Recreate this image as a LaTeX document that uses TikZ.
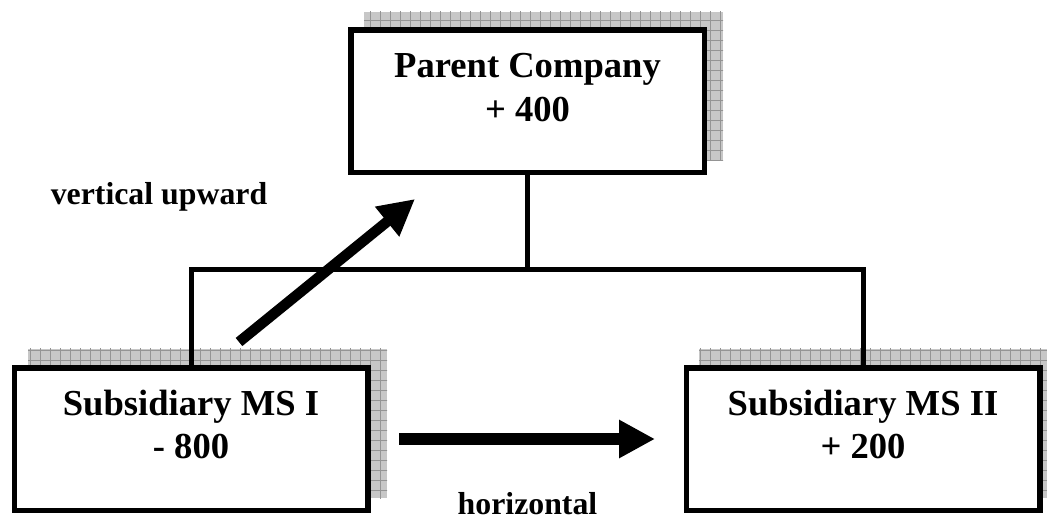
\documentclass[tikz,border=0pt]{standalone}
\usepackage{fontspec}
\setmainfont{Liberation Serif}
\usetikzlibrary{arrows.meta}
\tikzset{
  boxnode/.style={draw=black, line width=5.5pt, fill=white, minimum width=353.5pt, minimum height=142.5pt, inner sep=0pt},
  boxtext/.style={anchor=base, inner sep=0pt, font=\fontsize{36.6}{44}\selectfont\bfseries},
  lbl/.style={anchor=base, inner sep=0pt, font=\fontsize{31.8}{38}\selectfont\bfseries},
  conn/.style={line width=5pt, line join=miter},
  bigarrow/.style={line width=11pt, -{Triangle[length=36pt,width=36pt]}},
  shadowfill/.style={fill=black!22},
  shadowgrid/.style={draw=black!42, line width=0.7pt}
}
\newcommand\gridshadow[4]{%
  \begin{scope}
    \fill[shadowfill] (#1,#2) rectangle (#3,#4);
    \clip (#1,#2) rectangle (#3,#4);
    \foreach \gx in {0,10,...,1050} {\draw[shadowgrid] (\gx,0) -- (\gx,521);}
    \foreach \gy in {0,10,...,520} {\draw[shadowgrid] (0,\gy) -- (1047,\gy);}
  \end{scope}}
\begin{document}
\begin{tikzpicture}[x=1pt,y=-1pt]
\useasboundingbox (0,0) rectangle (1047,521);
% shadows
\gridshadow{364}{12}{723}{161}
\gridshadow{28}{349}{387}{498}
\gridshadow{699}{349}{1047}{498}
% connectors
\coordinate (junc) at (527.5,270);
% boxes
\node[boxnode] (parent) at (527.5,101.5) {};
\node[boxnode] (sub1) at (191,439) {};
\node[boxnode] (sub2) at (863,439) {};
\draw[conn] (parent.south) -- (junc);
\draw[conn] (sub1.north) |- (junc) -| (sub2.north);
% box texts
\node[boxtext] (pt1) at (527.5,78) {Parent Company};
\node[boxtext] (pt2) at (527.5,122) {+ 400};
\node[boxtext] (s1t1) at (191,415) {Subsidiary MS I};
\node[boxtext] (s1t2) at (191,458) {- 800};
\node[boxtext] (s2t1) at (863,415) {Subsidiary MS II};
\node[boxtext] (s2t2) at (863,458) {+ 200};
% arrows
\coordinate (vtail) at (239,342);
\coordinate (vtip) at (415,199);
\coordinate (htail) at (399,439);
\coordinate (htip) at (655,439);
\draw[bigarrow, line width=10.5pt] (vtail) -- (vtip);
\draw[bigarrow, line width=12pt] (htail) -- (htip);
% labels
\node[lbl] (vl) at (159,205) {vertical upward};
\node[lbl] (hl) at (527.5,514) {horizontal};
\end{tikzpicture}
\end{document}
